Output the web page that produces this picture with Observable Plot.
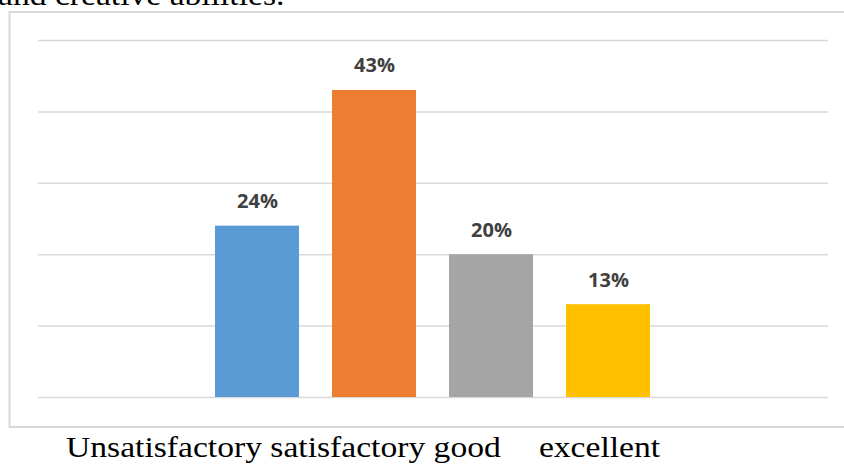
<!DOCTYPE html>
<html>
<head>
<meta charset="utf-8">
<script src="https://cdn.jsdelivr.net/npm/d3@7"></script>
<script src="https://cdn.jsdelivr.net/npm/@observablehq/plot@0.6"></script>
<style>
  html, body { margin: 0; padding: 0; background: #fff; }
  #wrap { position: relative; width: 844px; height: 464px; overflow: hidden; background: #fff; }
  .serif { font: 30px "Liberation Serif", "Times New Roman", serif; line-height: 30px; color: #000; white-space: pre; transform-origin: 0 0; transform: scaleX(1.12); }
  #toptext { position: absolute; left: -2px; top: -20.5px; }
  #chart { position: absolute; left: 0; top: 0; }
  #cats { position: absolute; left: 66px; top: 432px; }
</style>
</head>
<body>
<div id="wrap">
  <div id="toptext" class="serif">and creative abilities.</div>
  <div id="chart"></div>
  <div id="cats" class="serif"></div>
</div>
<script>
// Data
const categories = ["Unsatisfactory", "satisfactory", "good", "excellent"];
const values = [24, 43, 20, 13];
const colors = ["#5B9BD5", "#ED7D31", "#A5A5A5", "#FFC000"];
const gridTicks = [0, 10, 20, 30, 40, 50];

const data = categories.map((c, i) => ({category: c, value: values[i]}));

const chart = Plot.plot({
  width: 844,
  height: 430,
  marginTop: 40,
  marginBottom: 33,
  marginLeft: 38,
  marginRight: 16,
  x: {domain: categories, range: [214, 652], paddingInner: 0.28, paddingOuter: 0, axis: null},
  y: {domain: [0, 50], axis: null},
  color: {domain: categories, range: colors},
  style: {background: "transparent"},
  marks: [
    Plot.frame({stroke: "#d9d9d9", strokeWidth: 2, insetLeft: -29, insetTop: -28.5, insetBottom: -29.5, insetRight: -25}),
    Plot.ruleY(gridTicks, {stroke: "#d9d9d9", strokeWidth: 1.5}),
    Plot.barY(data, {x: "category", y: "value", fill: "category"}),
    Plot.text(data, {
      x: "category", y: "value",
      text: d => d.value + "%",
      lineAnchor: "bottom",
      dy: -18,
      fill: "#404040",
      fontSize: 20,
      fontWeight: "bold",
      fontFamily: "'Open Sans', sans-serif"
    })
  ]
});
document.getElementById("chart").appendChild(chart);

// Category labels below the chart box (as in the source document)
const cats = document.getElementById("cats");
const gaps = ["", " ", " ", "    "];
categories.forEach((c, i) => {
  const s = document.createElement("span");
  s.textContent = gaps[i] + c;
  if (i === 3) s.style.marginLeft = "4px";
  cats.appendChild(s);
});
</script>
</body>
</html>
